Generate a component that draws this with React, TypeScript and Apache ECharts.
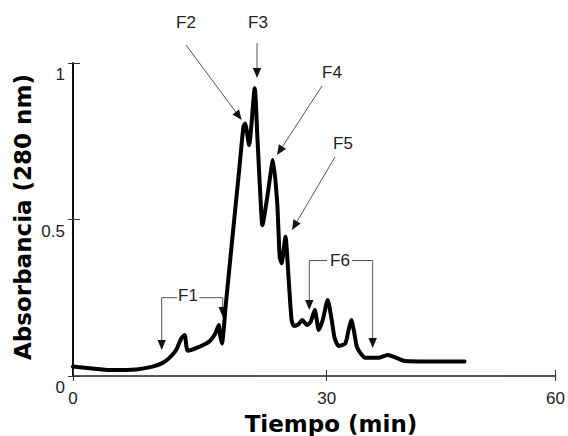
import React, { useEffect, useRef } from "react";
import * as echarts from "echarts";

const tiempo = [0, 2.0, 4.35, 7.5, 9.4, 10.6, 11.4, 12.2, 12.8, 13.2, 13.56, 14.55, 16.1, 16.8, 17.24, 17.41, 17.61, 18.08, 18.86, 19.65, 20.15, 20.35, 20.82, 21.49, 21.8, 22.2, 22.39, 22.98, 23.65, 24.15, 24.44, 24.67, 25.12, 25.53, 25.85, 26.12, 26.7, 27.09, 27.68, 28.1, 28.59, 29.06, 29.53, 30.12, 30.59, 30.94, 31.41, 32.2, 32.59, 32.91, 33.24, 33.56, 34.0, 34.55, 36.12, 37.21, 38.24, 39.26, 46.3];
const absorbancia = [0.03, 0.025, 0.019, 0.021, 0.03, 0.042, 0.058, 0.083, 0.12, 0.131, 0.081, 0.089, 0.11, 0.134, 0.163, 0.128, 0.104, 0.232, 0.445, 0.658, 0.796, 0.807, 0.738, 0.919, 0.765, 0.552, 0.482, 0.573, 0.69, 0.552, 0.381, 0.36, 0.445, 0.297, 0.179, 0.16, 0.166, 0.179, 0.163, 0.173, 0.211, 0.147, 0.179, 0.243, 0.179, 0.121, 0.096, 0.104, 0.147, 0.179, 0.141, 0.094, 0.073, 0.058, 0.058, 0.067, 0.058, 0.048, 0.046];

const xTickLabels = ["0", "30", "60"];
const yTickLabels = ["0", "0.5", "1"];
const xTitle = "Tiempo (min)";
const yTitle = "Absorbancia (280 nm)";

const X_MAX = 57.06;

function arrow(x1: number, y1: number, x2: number, y2: number) {
  const dx = x2 - x1;
  const dy = y2 - y1;
  const L = Math.hypot(dx, dy);
  const ux = dx / L;
  const uy = dy / L;
  const hl = 10;
  const hw = 4.2;
  const bx = x2 - ux * hl;
  const by = y2 - uy * hl;
  const px = -uy;
  const py = ux;
  return [
    {
      type: "line",
      shape: { x1, y1, x2: bx, y2: by },
      style: { stroke: "#555", lineWidth: 1 },
      silent: true,
    },
    {
      type: "polygon",
      shape: {
        points: [
          [x2, y2],
          [bx + px * hw, by + py * hw],
          [bx - px * hw, by - py * hw],
        ],
      },
      style: { fill: "#111" },
      silent: true,
    },
  ];
}

function seg(x1: number, y1: number, x2: number, y2: number) {
  return {
    type: "line",
    shape: { x1, y1, x2, y2 },
    style: { stroke: "#555", lineWidth: 1 },
    silent: true,
  };
}

function label(text: string, x: number, y: number) {
  return {
    type: "text",
    x,
    y,
    silent: true,
    style: {
      text,
      fontSize: 17,
      fontFamily: "Liberation Sans, Arial, sans-serif",
      fill: "#222",
      align: "center",
      verticalAlign: "middle",
      textAlign: "center",
      textVerticalAlign: "middle",
    },
  };
}

export default function App() {
  const ref = useRef<HTMLDivElement>(null);
  useEffect(() => {
    if (!ref.current) return;
    const chart = echarts.init(ref.current, null, { renderer: "svg" });
    const data = tiempo.map((t, i) => [t, absorbancia[i]]);
    const xFmt = (v: number) => (v === 0 ? xTickLabels[0] : v === 30 ? xTickLabels[1] : xTickLabels[2]);
    const yFmt = (v: number) => (v === 0 ? yTickLabels[0] : v === 0.5 ? yTickLabels[1] : yTickLabels[2]);
    const axisFont = {
      fontSize: 17,
      fontFamily: "Liberation Sans, Arial, sans-serif",
      color: "#222",
    };
    const option: any = {
      animation: false,
      backgroundColor: "#fff",
      grid: { left: 73, right: 10, top: 63, bottom: 60, containLabel: false },
      xAxis: [
        {
          type: "value",
          min: 0,
          max: X_MAX,
          interval: 30,
          position: "bottom",
          splitLine: { show: false },
          axisLine: { show: true, onZero: false, lineStyle: { color: "#222", width: 1.5 } },
          axisTick: { show: true, inside: false, length: 5, lineStyle: { color: "#333", width: 1 } },
          axisLabel: { ...axisFont, margin: 14, formatter: xFmt },
        },
        {
          type: "value",
          min: 0,
          max: X_MAX,
          interval: 30,
          position: "bottom",
          splitLine: { show: false },
          axisLine: { show: false, onZero: false },
          axisTick: { show: true, inside: true, length: 6, lineStyle: { color: "#333", width: 1 } },
          axisLabel: { show: false },
        },
      ],
      yAxis: [
        {
          type: "value",
          min: 0,
          max: 1,
          interval: 0.5,
          position: "left",
          splitLine: { show: false },
          axisLine: { show: true, onZero: false, lineStyle: { color: "#111", width: 2 } },
          axisTick: { show: true, inside: false, length: 5, lineStyle: { color: "#333", width: 1 } },
          axisLabel: {
            ...axisFont,
            margin: 8,
            verticalAlign: "top",
            padding: [3, 0, 0, 0],
            formatter: yFmt,
          },
        },
        {
          type: "value",
          min: 0,
          max: 1,
          interval: 0.5,
          position: "left",
          splitLine: { show: false },
          axisLine: { show: false, onZero: false },
          axisTick: { show: true, inside: true, length: 7, lineStyle: { color: "#333", width: 1 } },
          axisLabel: { show: false },
        },
      ],
      series: [
        {
          type: "line",
          data,
          xAxisIndex: 0,
          yAxisIndex: 0,
          showSymbol: false,
          symbol: "none",
          smooth: 0.2,
          lineStyle: { color: "#000", width: 4, cap: "round", join: "round" },
          silent: true,
        },
      ],
      graphic: [
        {
          type: "text",
          x: 331,
          y: 424,
          silent: true,
          style: {
            text: xTitle,
            fontSize: 23,
            fontWeight: "bold",
            fontFamily: "DejaVu Sans, Verdana, sans-serif",
            fill: "#000",
            align: "center",
            verticalAlign: "middle",
            textAlign: "center",
            textVerticalAlign: "middle",
          },
        },
        {
          type: "text",
          x: 23,
          y: 217,
          rotation: Math.PI / 2,
          silent: true,
          style: {
            text: yTitle,
            fontSize: 23,
            fontWeight: "bold",
            fontFamily: "DejaVu Sans, Verdana, sans-serif",
            fill: "#000",
            align: "center",
            verticalAlign: "middle",
            textAlign: "center",
            textVerticalAlign: "middle",
          },
        },
        label("F2", 186, 22),
        ...arrow(186, 45, 241.7, 120),
        label("F3", 258, 22),
        ...arrow(257, 43, 257, 78),
        label("F4", 332, 72),
        ...arrow(322, 86, 277, 155),
        label("F5", 343, 143),
        ...arrow(335, 157, 292, 230),
        label("F6", 340, 260),
        seg(309.3, 260.5, 327, 260.5),
        seg(352, 260.5, 372.7, 260.5),
        ...arrow(309.3, 260.5, 309.3, 310),
        ...arrow(372.7, 260.5, 372.7, 348),
        label("F1", 188, 295),
        seg(161.7, 297.7, 177, 297.7),
        seg(199.3, 297.7, 222.7, 297.7),
        ...arrow(161.7, 297.7, 161.7, 350),
        ...arrow(222.7, 297.7, 222.7, 317),
      ],
    };
    chart.setOption(option);
    return () => chart.dispose();
  }, []);
  return (
    <div
      ref={ref}
      style={{ position: "fixed", left: 0, top: 0, width: 568, height: 436, background: "#fff" }}
    />
  );
}
